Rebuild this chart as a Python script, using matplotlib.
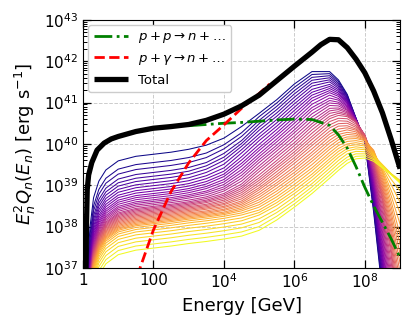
import numpy as np
import matplotlib
matplotlib.use("Agg")
import matplotlib.pyplot as plt
from matplotlib.ticker import FixedLocator, FixedFormatter, LogLocator, NullFormatter, NullLocator

plt.rcParams['font.family'] = ['DejaVu Sans']
plt.rcParams['mathtext.fontset'] = 'dejavusans'

# ---- energy grid of the zone curves (log10 E / GeV) ----
zone_logE = [0.12, 0.2, 0.3, 0.45, 0.65, 1.0, 1.5, 2.0, 2.5, 3.0, 3.5, 4.0, 4.5, 5.0,
             5.5, 6.0, 6.5, 7.0, 7.25, 7.5, 7.75, 8.0, 8.25, 8.5, 8.75, 9.0]

# ---- log10 of E^2 Q_n for each zone curve ----
zone_00 = [36.95, 38.00, 38.70, 39.10, 39.37, 39.59, 39.70, 39.75, 39.80, 39.87, 39.97, 40.14, 40.42, 40.74, 41.07, 41.45, 41.75, 41.75, 41.55, 41.20, 40.62, 40.05, 38.35, 36.40, 34.50, 32.50]
zone_01 = [36.75, 37.80, 38.50, 38.90, 39.17, 39.39, 39.50, 39.55, 39.60, 39.67, 39.78, 39.98, 40.27, 40.66, 40.99, 41.37, 41.68, 41.70, 41.51, 41.18, 40.62, 40.06, 38.42, 36.50, 34.60, 32.60]
zone_02 = [36.63, 37.68, 38.38, 38.78, 39.05, 39.27, 39.38, 39.43, 39.48, 39.55, 39.67, 39.88, 40.18, 40.57, 40.91, 41.29, 41.61, 41.65, 41.47, 41.15, 40.61, 40.07, 38.49, 36.60, 34.70, 32.70]
zone_03 = [36.51, 37.56, 38.26, 38.66, 38.93, 39.15, 39.26, 39.31, 39.36, 39.43, 39.55, 39.77, 40.08, 40.49, 40.83, 41.21, 41.54, 41.60, 41.43, 41.13, 40.61, 40.08, 38.56, 36.70, 34.80, 32.80]
zone_04 = [36.42, 37.47, 38.17, 38.57, 38.84, 39.06, 39.17, 39.22, 39.27, 39.34, 39.47, 39.68, 40.01, 40.41, 40.75, 41.13, 41.47, 41.55, 41.39, 41.10, 40.60, 40.09, 38.63, 36.80, 34.90, 32.90]
zone_05 = [36.34, 37.39, 38.09, 38.49, 38.76, 38.98, 39.09, 39.14, 39.19, 39.26, 39.39, 39.60, 39.94, 40.33, 40.67, 41.05, 41.40, 41.50, 41.35, 41.08, 40.60, 40.10, 38.70, 36.90, 35.00, 33.00]
zone_06 = [36.26, 37.31, 38.01, 38.41, 38.68, 38.90, 39.01, 39.06, 39.11, 39.18, 39.31, 39.51, 39.86, 40.24, 40.59, 40.97, 41.32, 41.44, 41.31, 41.05, 40.60, 40.11, 38.77, 37.00, 35.10, 33.10]
zone_07 = [36.19, 37.24, 37.94, 38.34, 38.61, 38.83, 38.94, 38.99, 39.04, 39.11, 39.23, 39.42, 39.78, 40.16, 40.51, 40.89, 41.25, 41.39, 41.27, 41.03, 40.59, 40.12, 38.84, 37.10, 35.20, 33.20]
zone_08 = [36.12, 37.17, 37.87, 38.27, 38.54, 38.76, 38.87, 38.92, 38.97, 39.04, 39.16, 39.34, 39.69, 40.08, 40.43, 40.81, 41.18, 41.34, 41.23, 41.00, 40.59, 40.13, 38.91, 37.20, 35.30, 33.30]
zone_09 = [36.06, 37.11, 37.81, 38.21, 38.48, 38.70, 38.81, 38.86, 38.91, 38.98, 39.09, 39.27, 39.61, 39.99, 40.35, 40.73, 41.11, 41.29, 41.19, 40.98, 40.58, 40.14, 38.98, 37.30, 35.40, 33.40]
zone_10 = [36.00, 37.05, 37.75, 38.15, 38.42, 38.64, 38.75, 38.80, 38.85, 38.92, 39.03, 39.21, 39.53, 39.91, 40.27, 40.65, 41.04, 41.24, 41.15, 40.95, 40.58, 40.15, 39.05, 37.40, 35.50, 33.50]
zone_11 = [35.95, 37.00, 37.70, 38.10, 38.37, 38.59, 38.70, 38.75, 38.80, 38.87, 38.97, 39.14, 39.46, 39.84, 40.20, 40.57, 40.96, 41.18, 41.10, 40.92, 40.57, 40.16, 39.11, 37.52, 35.68, 33.70]
zone_12 = [35.90, 36.95, 37.65, 38.05, 38.32, 38.54, 38.65, 38.70, 38.75, 38.82, 38.92, 39.08, 39.38, 39.76, 40.12, 40.50, 40.88, 41.11, 41.06, 40.89, 40.57, 40.16, 39.16, 37.64, 35.86, 33.90]
zone_13 = [35.85, 36.90, 37.60, 38.00, 38.27, 38.49, 38.60, 38.65, 38.70, 38.77, 38.86, 39.02, 39.31, 39.69, 40.05, 40.42, 40.81, 41.05, 41.01, 40.86, 40.56, 40.17, 39.22, 37.76, 36.04, 34.10]
zone_14 = [35.81, 36.86, 37.56, 37.96, 38.23, 38.45, 38.56, 38.61, 38.66, 38.73, 38.82, 38.96, 39.24, 39.62, 39.97, 40.34, 40.73, 40.99, 40.97, 40.83, 40.56, 40.18, 39.27, 37.88, 36.22, 34.30]
zone_15 = [35.77, 36.82, 37.52, 37.92, 38.19, 38.41, 38.52, 38.57, 38.62, 38.69, 38.77, 38.91, 39.17, 39.55, 39.90, 40.27, 40.65, 40.93, 40.92, 40.81, 40.55, 40.19, 39.33, 38.00, 36.40, 34.50]
zone_16 = [35.73, 36.78, 37.48, 37.88, 38.15, 38.37, 38.48, 38.53, 38.58, 38.64, 38.72, 38.86, 39.10, 39.47, 39.83, 40.19, 40.57, 40.86, 40.87, 40.78, 40.54, 40.19, 39.38, 38.12, 36.58, 34.70]
zone_17 = [35.69, 36.74, 37.44, 37.84, 38.11, 38.33, 38.44, 38.49, 38.54, 38.60, 38.68, 38.80, 39.03, 39.40, 39.75, 40.11, 40.49, 40.80, 40.83, 40.75, 40.54, 40.20, 39.44, 38.24, 36.76, 34.90]
zone_18 = [35.66, 36.71, 37.41, 37.81, 38.08, 38.30, 38.41, 38.46, 38.51, 38.57, 38.64, 38.76, 38.97, 39.33, 39.68, 40.03, 40.42, 40.74, 40.78, 40.72, 40.53, 40.21, 39.49, 38.36, 36.94, 35.10]
zone_19 = [35.63, 36.68, 37.38, 37.78, 38.05, 38.27, 38.38, 38.43, 38.48, 38.54, 38.61, 38.72, 38.92, 39.25, 39.60, 39.96, 40.34, 40.67, 40.74, 40.69, 40.53, 40.21, 39.55, 38.48, 37.12, 35.30]
zone_20 = [35.60, 36.65, 37.35, 37.75, 38.02, 38.24, 38.35, 38.40, 38.45, 38.51, 38.58, 38.68, 38.87, 39.18, 39.53, 39.88, 40.26, 40.61, 40.69, 40.66, 40.52, 40.22, 39.60, 38.60, 37.30, 35.50]
zone_21 = [35.57, 36.62, 37.32, 37.72, 37.99, 38.21, 38.32, 38.37, 38.42, 38.48, 38.54, 38.64, 38.82, 39.12, 39.46, 39.81, 40.18, 40.54, 40.62, 40.61, 40.48, 40.21, 39.63, 38.67, 37.43, 35.73]
zone_22 = [35.54, 36.59, 37.29, 37.69, 37.96, 38.18, 38.29, 38.34, 38.39, 38.45, 38.51, 38.60, 38.77, 39.06, 39.40, 39.74, 40.11, 40.46, 40.56, 40.55, 40.44, 40.19, 39.65, 38.74, 37.56, 35.96]
zone_23 = [35.51, 36.56, 37.26, 37.66, 37.93, 38.15, 38.26, 38.31, 38.36, 38.42, 38.48, 38.56, 38.72, 39.00, 39.33, 39.67, 40.03, 40.39, 40.49, 40.50, 40.40, 40.18, 39.68, 38.81, 37.69, 36.19]
zone_24 = [35.48, 36.53, 37.23, 37.63, 37.90, 38.12, 38.23, 38.28, 38.33, 38.39, 38.45, 38.53, 38.67, 38.94, 39.26, 39.60, 39.96, 40.31, 40.43, 40.44, 40.36, 40.16, 39.70, 38.88, 37.82, 36.42]
zone_25 = [35.45, 36.50, 37.20, 37.60, 37.87, 38.09, 38.20, 38.25, 38.30, 38.36, 38.42, 38.49, 38.62, 38.89, 39.20, 39.53, 39.88, 40.24, 40.36, 40.39, 40.33, 40.15, 39.73, 38.95, 37.95, 36.65]
zone_26 = [35.42, 36.47, 37.17, 37.57, 37.84, 38.06, 38.17, 38.22, 38.27, 38.33, 38.38, 38.46, 38.58, 38.83, 39.13, 39.45, 39.80, 40.17, 40.29, 40.34, 40.29, 40.14, 39.75, 39.02, 38.08, 36.88]
zone_27 = [35.39, 36.44, 37.14, 37.54, 37.81, 38.03, 38.14, 38.19, 38.24, 38.30, 38.35, 38.42, 38.54, 38.77, 39.06, 39.38, 39.73, 40.09, 40.23, 40.28, 40.25, 40.12, 39.78, 39.09, 38.21, 37.11]
zone_28 = [35.36, 36.41, 37.11, 37.51, 37.78, 38.00, 38.11, 38.16, 38.21, 38.27, 38.32, 38.39, 38.50, 38.71, 39.00, 39.31, 39.65, 40.02, 40.16, 40.23, 40.21, 40.11, 39.80, 39.16, 38.34, 37.34]
zone_29 = [35.33, 36.38, 37.08, 37.48, 37.75, 37.97, 38.08, 38.13, 38.18, 38.24, 38.29, 38.35, 38.46, 38.65, 38.93, 39.24, 39.58, 39.94, 40.10, 40.17, 40.17, 40.09, 39.83, 39.23, 38.47, 37.57]
zone_30 = [35.30, 36.35, 37.05, 37.45, 37.72, 37.94, 38.05, 38.10, 38.15, 38.21, 38.26, 38.32, 38.42, 38.59, 38.86, 39.17, 39.50, 39.87, 40.03, 40.12, 40.13, 40.08, 39.85, 39.30, 38.60, 37.80]
zone_31 = [35.27, 36.32, 37.02, 37.42, 37.69, 37.91, 38.02, 38.07, 38.12, 38.18, 38.23, 38.29, 38.38, 38.53, 38.79, 39.10, 39.42, 39.79, 39.96, 40.06, 40.08, 40.04, 39.82, 39.34, 38.74, 38.06]
zone_32 = [35.23, 36.28, 36.98, 37.38, 37.65, 37.87, 37.98, 38.03, 38.08, 38.14, 38.19, 38.25, 38.33, 38.47, 38.72, 39.02, 39.35, 39.72, 39.89, 40.00, 40.03, 39.99, 39.80, 39.38, 38.87, 38.33]
zone_33 = [35.18, 36.23, 36.93, 37.33, 37.60, 37.82, 37.93, 37.98, 38.03, 38.09, 38.14, 38.20, 38.28, 38.40, 38.65, 38.95, 39.27, 39.64, 39.82, 39.95, 39.98, 39.95, 39.77, 39.42, 39.01, 38.59]
zone_34 = [35.12, 36.17, 36.87, 37.27, 37.54, 37.76, 37.87, 37.92, 37.97, 38.03, 38.08, 38.14, 38.21, 38.34, 38.58, 38.87, 39.20, 39.57, 39.75, 39.89, 39.93, 39.90, 39.75, 39.46, 39.14, 38.86]
zone_35 = [35.05, 36.10, 36.80, 37.20, 37.47, 37.69, 37.80, 37.85, 37.90, 37.96, 38.01, 38.07, 38.14, 38.28, 38.51, 38.80, 39.12, 39.49, 39.68, 39.83, 39.88, 39.86, 39.72, 39.50, 39.28, 39.12]
zone_36 = [34.97, 36.02, 36.72, 37.12, 37.39, 37.61, 37.72, 37.77, 37.82, 37.88, 37.93, 37.99, 38.06, 38.19, 38.42, 38.72, 39.04, 39.41, 39.60, 39.76, 39.82, 39.81, 39.69, 39.48, 39.27, 39.10]
zone_37 = [34.88, 35.93, 36.63, 37.03, 37.30, 37.52, 37.63, 37.68, 37.73, 37.79, 37.84, 37.90, 37.97, 38.10, 38.34, 38.63, 38.96, 39.33, 39.52, 39.68, 39.76, 39.76, 39.65, 39.46, 39.27, 39.09]
zone_38 = [34.78, 35.83, 36.53, 36.93, 37.20, 37.42, 37.53, 37.58, 37.63, 37.69, 37.74, 37.80, 37.87, 38.00, 38.25, 38.55, 38.88, 39.25, 39.44, 39.61, 39.70, 39.71, 39.62, 39.44, 39.26, 39.07]
zone_39 = [34.68, 35.73, 36.43, 36.83, 37.10, 37.32, 37.43, 37.48, 37.53, 37.59, 37.64, 37.70, 37.77, 37.91, 38.16, 38.47, 38.80, 39.17, 39.36, 39.53, 39.64, 39.66, 39.58, 39.42, 39.25, 39.05]

zones = [zone_00, zone_01, zone_02, zone_03, zone_04, zone_05, zone_06, zone_07,
         zone_08, zone_09, zone_10, zone_11, zone_12, zone_13, zone_14, zone_15,
         zone_16, zone_17, zone_18, zone_19, zone_20, zone_21, zone_22, zone_23,
         zone_24, zone_25, zone_26, zone_27, zone_28, zone_29, zone_30, zone_31,
         zone_32, zone_33, zone_34, zone_35, zone_36, zone_37, zone_38, zone_39]

# ---- p + p -> n + ... ----
pp_logE = [3.0, 3.5, 4.0, 4.5, 5.0, 5.5, 6.0, 6.5, 7.0, 7.25, 7.5, 7.75, 8.0, 8.25, 8.5, 8.75, 9.0]
pp_val = [40.44, 40.47, 40.50, 40.52, 40.55, 40.58, 40.60, 40.59, 40.45, 40.22, 39.90, 39.45, 38.95, 38.50, 38.10, 37.70, 37.25]

# ---- p + gamma -> n + ... ----
pg_logE = [1.55, 1.62, 2.0, 2.5, 3.0, 3.5, 4.0, 4.5, 5.0, 5.3]
pg_val = [36.80, 37.00, 37.92, 38.85, 39.54, 40.08, 40.46, 40.86, 41.22, 41.45]

# ---- Total ----
tot_logE = [0.07, 0.085, 0.1, 0.12, 0.16, 0.25, 0.4, 0.6, 0.8, 1.0, 1.5, 2.0, 2.5, 3.0,
            3.5, 4.0, 4.5, 5.0, 5.5, 6.0, 6.5, 6.75, 7.0, 7.25, 7.5, 7.75, 8.0, 8.25,
            8.5, 8.75, 9.0]
tot_val = [36.0, 37.0, 38.1, 38.9, 39.25, 39.55, 39.85, 40.02, 40.12, 40.18, 40.30,
           40.38, 40.42, 40.47, 40.57, 40.72, 40.92, 41.18, 41.53, 41.88, 42.22,
           42.40, 42.53, 42.52, 42.33, 42.05, 41.72, 41.28, 40.75, 40.10, 39.40]

x_tick_vals = [1, 1e2, 1e4, 1e6, 1e8]
x_tick_labels = ['1', '100', r'$10^4$', r'$10^6$', r'$10^8$']
y_tick_vals = [1e37, 1e38, 1e39, 1e40, 1e41, 1e42, 1e43]
y_tick_labels = [r'$10^{37}$', r'$10^{38}$', r'$10^{39}$', r'$10^{40}$',
                 r'$10^{41}$', r'$10^{42}$', r'$10^{43}$']

fig = plt.figure(figsize=(4.15, 3.32), dpi=100)
ax = fig.add_axes([0.200, 0.193, 0.764, 0.747])

cmap = plt.get_cmap('plasma')
n = len(zones)
E = 10.0 ** np.array(zone_logE)
for i, z in enumerate(zones):
    ax.plot(E, 10.0 ** np.array(z), color=cmap(i / (n - 1)), lw=0.75, zorder=2)

ax.plot(10.0 ** np.array(pp_logE), 10.0 ** np.array(pp_val), color='green',
        ls='-.', lw=2.0, zorder=3, label=r'$p+p\rightarrow n+\ldots$')
ax.plot(10.0 ** np.array(pg_logE), 10.0 ** np.array(pg_val), color='red',
        ls='--', lw=2.0, zorder=3, label=r'$p+\gamma\rightarrow n+\ldots$')
ax.plot(10.0 ** np.array(tot_logE), 10.0 ** np.array(tot_val), color='black',
        lw=3.8, zorder=4, label='Total', solid_capstyle='butt')

ax.set_xscale('log')
ax.set_yscale('log')
ax.set_xlim(1, 1e9)
ax.set_ylim(1e37, 1e43)

ax.xaxis.set_major_locator(FixedLocator(x_tick_vals))
ax.xaxis.set_major_formatter(FixedFormatter(x_tick_labels))
ax.xaxis.set_minor_locator(NullLocator())
ax.yaxis.set_major_locator(FixedLocator(y_tick_vals))
ax.yaxis.set_major_formatter(FixedFormatter(y_tick_labels))
ax.yaxis.set_minor_locator(LogLocator(base=10, subs=np.arange(2, 10), numticks=20))
ax.yaxis.set_minor_formatter(NullFormatter())

ax.tick_params(which='both', direction='in', top=True, right=True, labelsize=11)
ax.tick_params(which='major', length=6, width=0.9)
ax.tick_params(which='minor', length=3, width=0.7)
ax.grid(True, which='major', ls='--', color='#cccccc', lw=0.7)
ax.set_axisbelow(True)

ax.set_xlabel('Energy [GeV]', fontsize=13)
ax.set_ylabel(r'$E_n^2Q_n(E_n)$ [erg s$^{-1}$]', fontsize=13)

leg = ax.legend(loc='upper left', fontsize=9.5, handlelength=2.6, framealpha=1,
                borderaxespad=0.4)
leg.get_frame().set_edgecolor('#cccccc')

fig.savefig('out.png', dpi=100)
